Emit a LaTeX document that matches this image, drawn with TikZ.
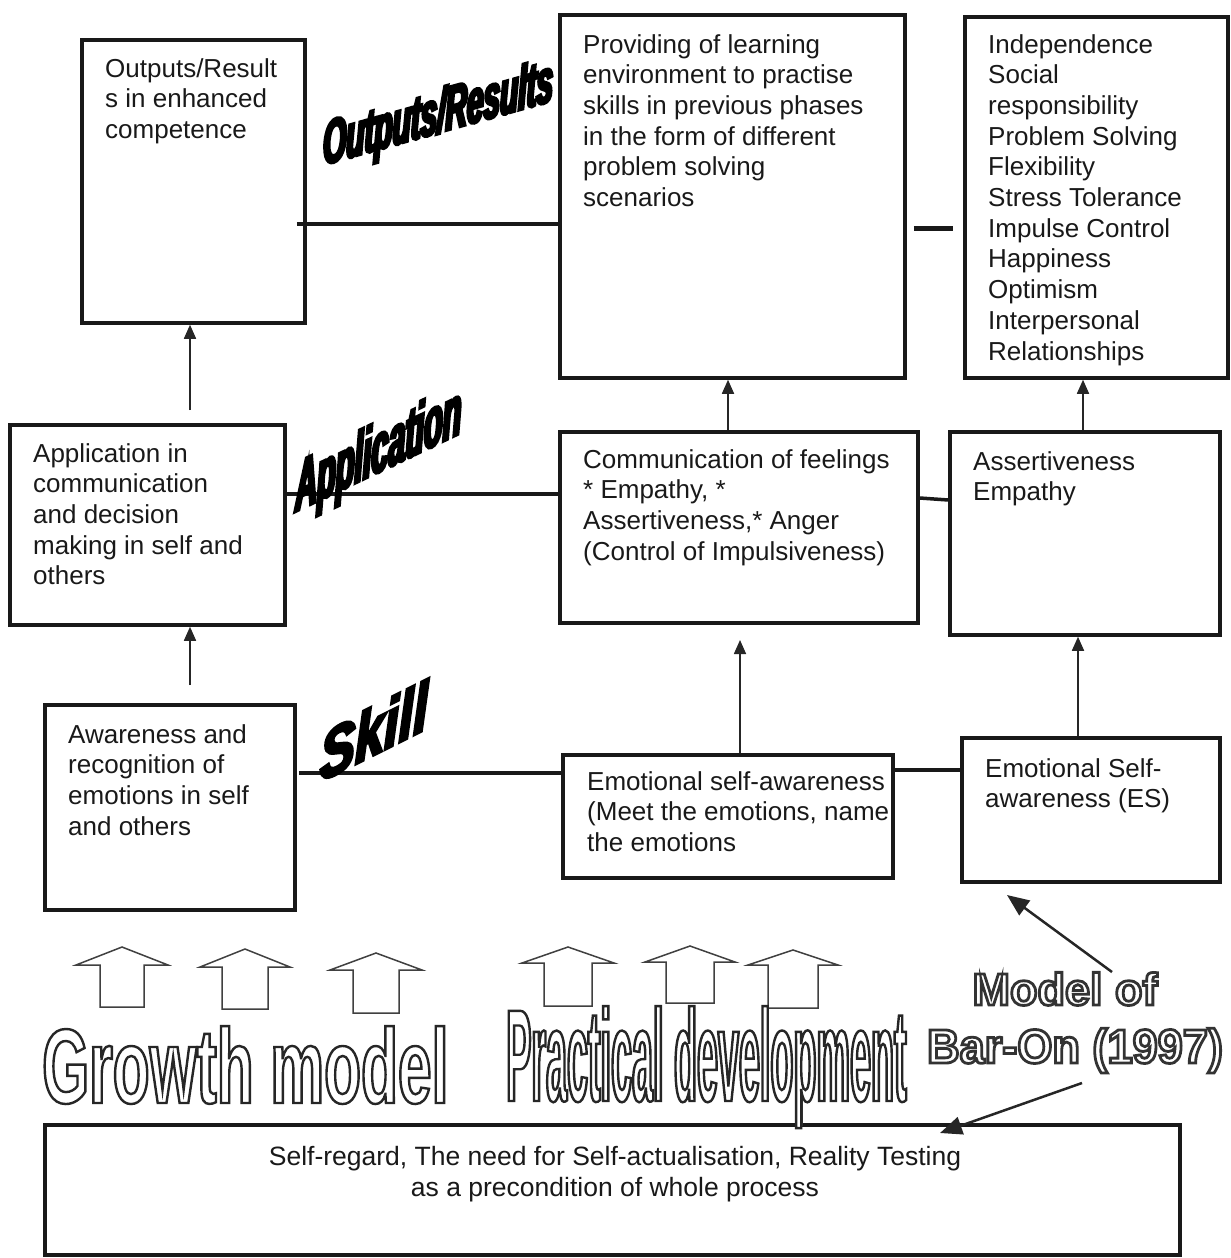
\documentclass[tikz,border=0pt]{standalone}
\usepackage{fontspec}
\setmainfont{Liberation Sans}
\newfontfamily\fGM{Liberation Sans}[FakeStretch=0.57]
\newfontfamily\fPD{Liberation Sans}[FakeStretch=0.288]
\newfontfamily\fBO{Liberation Sans}[FakeStretch=0.94]
\newfontfamily\fWA{Liberation Sans}[FakeStretch=0.48]
\newfontfamily\fWB{Liberation Sans}[FakeStretch=0.43]
\newfontfamily\fWC{Liberation Sans}[FakeStretch=0.77]
\usetikzlibrary{arrows.meta,calc}
\newcommand\strokeon[2]{\special{pdf:literal direct 2 Tr #1 w #2 G}}
\newcommand\strokeoff{\special{pdf:literal direct 0 Tr}}
\tikzset{
  box/.style={draw=black!90, line width=3.5pt, rectangle, inner sep=0pt},
  txt/.style={anchor=north west, align=left, inner sep=0pt, font=\fontsize{26}{30.7}\selectfont, text=black!90},
  conn/.style={line width=3.5pt, draw=black!90},
  arr/.style={line width=1.6pt, draw=black!85, -{Triangle[length=14pt,width=12pt]}},
  bigarr/.style={line width=2.5pt, draw=black!85, -{Triangle[length=22pt,width=18pt]}},
  blockarrow/.style={draw=black!75, line width=1.5pt, fill=white, line join=miter},
  wordart/.style={anchor=base west, inner sep=0pt, text=black},
  outl/.style={anchor=base west, inner sep=0pt, text=white},
}
\begin{document}
\begin{tikzpicture}[x=1pt,y=-1pt]
\fill[white] (0,0) rectangle (1231,1258);
\useasboundingbox (0,0) rectangle (1231,1258);

% boxes
\node[box, minimum width=223pt, minimum height=283pt] (A) at (193.5,181.5) {};
\node[box, minimum width=345pt, minimum height=363pt] (B) at (732.5,196.5) {};
\node[box, minimum width=263pt, minimum height=361pt] (C) at (1096.5,197.5) {};
\node[box, minimum width=275pt, minimum height=200pt] (D) at (147.5,525) {};
\node[box, minimum width=358pt, minimum height=191pt] (E) at (739,527.5) {};
\node[box, minimum width=270pt, minimum height=203pt] (F) at (1085,533.5) {};
\node[box, minimum width=250pt, minimum height=205pt] (G) at (170,807.5) {};
\node[box, minimum width=330pt, minimum height=123pt] (H) at (728,816.5) {};
\node[box, minimum width=258pt, minimum height=144pt] (I) at (1091,810) {};
\node[box, minimum width=1135pt, minimum height=130pt] (J) at (612.5,1190) {};

% texts
\node[txt] (At) at (105,58) {Outputs/Result\\s in enhanced\\competence};
\node[txt] (Bt) at (583,34) {Providing of learning\\environment to practise\\skills in previous phases\\in the form of different\\problem solving\\scenarios};
\node[txt] (Ct) at (988,34) {Independence\\Social\\responsibility\\Problem Solving\\Flexibility\\Stress Tolerance\\Impulse Control\\Happiness\\Optimism\\Interpersonal\\Relationships};
\node[txt] (Dt) at (33,443) {Application in\\communication\\and decision\\making in self and\\others};
\node[txt] (Et) at (583,449) {Communication of feelings\\* Empathy, *\\Assertiveness,* Anger\\(Control of Impulsiveness)};
\node[txt] (Ft) at (973,451) {Assertiveness\\Empathy};
\node[txt] (Gt) at (68,724) {Awareness and\\recognition of\\emotions in self\\and others};
\node[txt] (Ht) at (587,771) {Emotional self-awareness\\(Meet the emotions, name\\the emotions};
\node[txt] (It) at (985,758) {Emotional Self-\\awareness (ES)};
\node[txt, anchor=north, align=center, font=\fontsize{26.5}{30.7}\selectfont] (Jt) at (615,1146) {Self-regard, The need for Self-actualisation, Reality Testing\\as a precondition of whole process};

% horizontal connectors
\draw[conn] ($(A.east |- 0,224)+(-10,0)$) -- (B.west |- 0,224);
\draw[conn, line width=5pt] ($(B.east |- 0,228)+(7,0)$) -- ($(C.west |- 0,228)+(-10,0)$);
\draw[conn] ($(D.east |- 0,494)+(-3,0)$) -- (E.west |- 0,494);
\draw[conn] (E.east |- 0,498) -- (F.west |- 0,500);
\draw[conn] ($(G.east |- 0,773)+(2,0)$) -- (H.west |- 0,773);
\draw[conn] (H.east |- 0,770) -- (I.west |- 0,770);

% vertical arrows
\coordinate (d1) at (190,410);
\draw[arr] (d1) -- (d1 |- A.south);
\coordinate (g1) at (190,685);
\draw[arr] (g1) -- (g1 |- D.south);
\draw[arr] (728,0 |- E.north) -- (728,0 |- B.south);
\draw[arr] (1083,0 |- F.north) -- (1083,0 |- C.south);
\coordinate (e1) at (740,640);
\draw[arr] (740,0 |- H.north) -- (e1);
\draw[arr] (1078,0 |- I.north) -- (1078,0 |- F.south);

% word art labels
\node[wordart, font=\fWA\bfseries\itshape\fontsize{62}{62}\selectfont, yslant=0.28] (WA1) at (323,165) {\strokeon{3}{0}Outputs/Results\strokeoff};
\node[wordart, font=\fWB\bfseries\itshape\fontsize{71}{71}\selectfont, yslant=0.476] (WA2) at (295,512) {\strokeon{3}{0}Application\strokeoff};
\node[wordart, font=\fWC\bfseries\itshape\fontsize{68}{68}\selectfont, yslant=0.5] (WA3) at (320,782) {\strokeon{3}{0}Skill\strokeoff};

% block arrows
\foreach \cx/\ty/\hb/\hw/\sw/\by in {122/947/965/46/22/1007, 245/949/967/45/23/1009, 376/953/970/46/23/1013, 568/947/963/46/24/1006, 690/946/962/45/24/1003, 793/950/965/45/25/1008}
  \draw[blockarrow] (\cx,\ty) -- (\cx+\hw,\hb) -- (\cx+\sw,\hb) -- (\cx+\sw,\by) -- (\cx-\sw,\by) -- (\cx-\sw,\hb) -- (\cx-\hw,\hb) -- cycle;

% outlined texts
\draw[draw=black!80, line width=1.2pt, fill=white] (796,1092) rectangle (802,1125);
\node[outl, font=\fGM\bfseries\fontsize{106}{106}\selectfont] (GM) at (42,1103) {\strokeon{2.4}{0.15}Growth model\strokeoff};
\node[outl, font=\fPD\bfseries\fontsize{131}{131}\selectfont] (PD) at (506,1101) {\strokeon{2.4}{0.15}Practical development\strokeoff};
\node[outl, anchor=base, font=\bfseries\fontsize{45}{45}\selectfont] (ML) at (1065,1005) {\strokeon{2.8}{0.2}Model of\strokeoff};
\node[outl, anchor=base, font=\fBO\bfseries\fontsize{48}{48}\selectfont] (BO) at (1075,1063) {\strokeon{2.8}{0.2}Bar-On (1997)\strokeoff};

% arrows from the Bar-On label
\coordinate (m1) at (1112,972);
\coordinate (m2) at (1007,895);
\draw[bigarr] (m1) -- (m2);
\coordinate (m3) at (1082,1083);
\coordinate (m4) at (940,1133);
\draw[bigarr] (m3) -- (m4);
\end{tikzpicture}
\end{document}
